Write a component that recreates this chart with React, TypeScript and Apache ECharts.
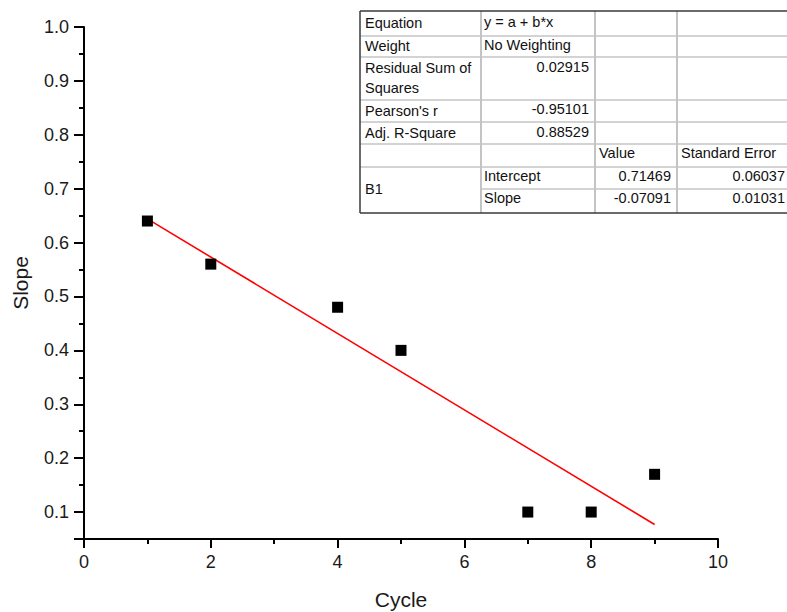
import React, { useEffect, useRef } from "react";
import * as echarts from "echarts";

const cycles = [1, 2, 4, 5, 7, 8, 9];
const slopes = [0.64, 0.56, 0.48, 0.4, 0.1, 0.1, 0.17];
const fitX = [1, 9];
const fitY = [0.644, 0.077];

const xTickMin = 0;
const xTickMax = 10;
const yMin = 0.05;
const yMax = 1.0;

// table contents
const tableLeftCol = ["Equation", "Weight", "Residual Sum of", "Squares", "Pearson's r", "Adj. R-Square", "B1"];
const tableTextCol1 = ["y = a + b*x", "No Weighting", "Intercept", "Slope"];
const tableNumCol1 = ["0.02915", "-0.95101", "0.88529"];
const tableHeaders = ["Value", "Standard Error"];
const valueCol = ["0.71469", "-0.07091"];
const stdErrCol = ["0.06037", "0.01031"];

export default function App() {
  const ref = useRef<HTMLDivElement>(null);
  useEffect(() => {
    if (!ref.current) return;
    const chart = echarts.init(ref.current, undefined, { renderer: "svg" });
    const font = "Liberation Sans, Arial, sans-serif";
    const tf = { fontSize: 14.5, fontFamily: font, fill: "#111" };
    const t = (text: string, x: number, y: number, align: string = "left") => ({
      type: "text",
      x,
      y,
      z: 110,
      style: { ...tf, text, align, verticalAlign: "middle" },
    });
    const gray = "#c4c4c4";
    const dark = "#3a3a3a";
    const hl = (y: number, x1: number, x2: number, c: string, w = 1.5) => ({
      type: "line",
      z: 105,
      shape: { x1, y1: y, x2, y2: y },
      style: { stroke: c, lineWidth: w },
    });
    const vl = (x: number, y1: number, y2: number, c: string, w = 1.5) => ({
      type: "line",
      z: 105,
      shape: { x1: x, y1, x2: x, y2 },
      style: { stroke: c, lineWidth: w },
    });
    const R = 800;
    const graphics: any[] = [
      { type: "rect", z: 100, shape: { x: 360, y: 11, width: 440, height: 202 }, style: { fill: "#fff" } },
      hl(36, 360, R, gray),
      hl(57, 360, R, gray),
      hl(100, 360, R, gray),
      hl(122, 360, R, gray),
      hl(144, 360, R, gray),
      hl(167, 360, R, gray),
      hl(189, 481, R, gray),
      vl(481, 11, 213, gray, 2),
      vl(595, 11, 213, gray, 2),
      vl(677, 11, 213, gray, 2),
      hl(11, 360, R, dark),
      hl(213, 360, R, dark),
      vl(360, 11, 213, dark),
      t(tableLeftCol[0], 365, 23),
      t(tableLeftCol[1], 365, 46),
      t(tableLeftCol[2], 365, 68),
      t(tableLeftCol[3], 365, 88),
      t(tableLeftCol[4], 365, 111),
      t(tableLeftCol[5], 365, 133),
      t(tableLeftCol[6], 365, 189),
      t(tableTextCol1[0], 484, 22),
      t(tableTextCol1[1], 484, 45),
      t(tableNumCol1[0], 589, 67, "right"),
      t(tableNumCol1[1], 589, 109, "right"),
      t(tableNumCol1[2], 589, 132, "right"),
      t(tableTextCol1[2], 484, 176),
      t(tableTextCol1[3], 484, 198),
      t(tableHeaders[0], 599, 153),
      t(tableHeaders[1], 681, 153),
      t(valueCol[0], 671, 176, "right"),
      t(valueCol[1], 671, 198, "right"),
      t(stdErrCol[0], 785, 176, "right"),
      t(stdErrCol[1], 785, 198, "right"),
    ];

    const labelStyle = { fontSize: 18, color: "#1a1a1a", fontFamily: font };
    chart.setOption({
      animation: false,
      backgroundColor: "#fff",
      grid: { left: 84, right: 69, top: 27, bottom: 73, containLabel: false, outerBoundsMode: "none" },
      xAxis: {
        type: "value",
        min: xTickMin,
        max: xTickMax,
        interval: 2,
        name: "Cycle",
        nameLocation: "middle",
        nameGap: 50,
        nameTextStyle: { fontSize: 21, color: "#1a1a1a", fontFamily: font },
        axisLine: { show: true, onZero: false, lineStyle: { color: "#000", width: 2 } },
        axisTick: { show: true, inside: false, length: 9, lineStyle: { color: "#000", width: 2 } },
        minorTick: { show: true, splitNumber: 2, length: 5, lineStyle: { color: "#000", width: 2 } },
        splitLine: { show: false },
        axisLabel: { ...labelStyle, margin: 14 },
      },
      yAxis: [
        {
          type: "value",
          min: yMin,
          max: yMax,
          minInterval: 0.1,
          maxInterval: 0.1,
          splitNumber: 10,
          name: "Slope",
          nameLocation: "middle",
          nameGap: 53,
          nameTextStyle: { fontSize: 21, color: "#1a1a1a", fontFamily: font },
          axisLine: { show: true, onZero: false, lineStyle: { color: "#000", width: 2 } },
          axisTick: { show: true, inside: false, length: 10, lineStyle: { color: "#000", width: 2 } },
          splitLine: { show: false },
          axisLabel: {
            ...labelStyle,
            margin: 15,
            formatter: (v: number) => (Math.abs(v - yMin) < 1e-6 ? "" : v.toFixed(1)),
          },
        },
        {
          type: "value",
          min: yMin,
          max: yMax,
          interval: 0.05,
          position: "left",
          axisLine: { show: false },
          axisTick: { show: true, inside: false, length: 5, lineStyle: { color: "#000", width: 2 } },
          axisLabel: { show: false },
          splitLine: { show: false },
        },
      ],
      series: [
        {
          type: "line",
          data: fitX.map((x, i) => [x, fitY[i]]),
          showSymbol: false,
          symbol: "none",
          lineStyle: { color: "#ff0000", width: 1.6 },
          z: 2,
        },
        {
          type: "scatter",
          data: cycles.map((x, i) => [x, slopes[i]]),
          symbol: "rect",
          symbolSize: 11,
          itemStyle: { color: "#000", opacity: 1 },
          z: 3,
        },
      ],
      graphic: graphics,
    });
    return () => chart.dispose();
  }, []);
  return (
    <div
      ref={ref}
      style={{ position: "absolute", left: 0, top: 0, width: 787, height: 612, background: "#fff" }}
    />
  );
}
